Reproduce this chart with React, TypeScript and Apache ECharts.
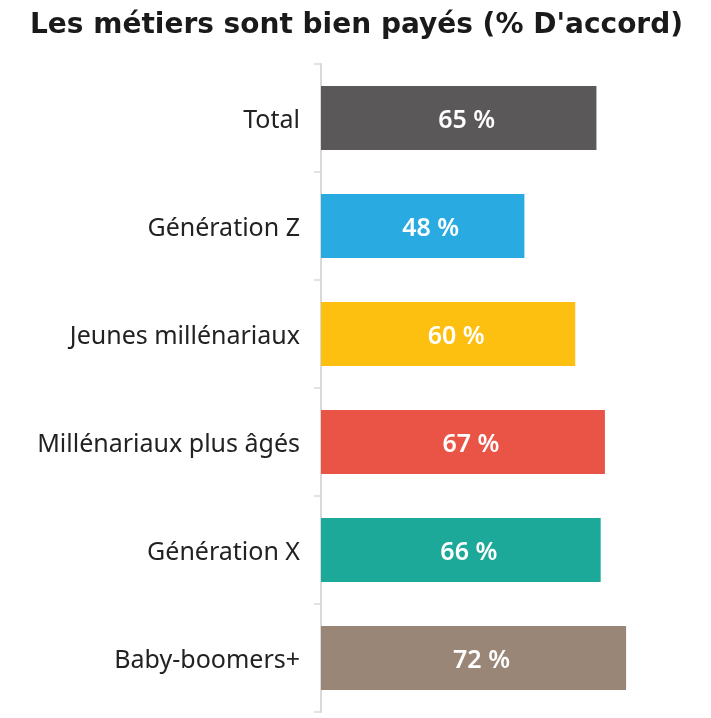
import React, { useEffect, useRef } from "react";
import * as echarts from "echarts";

const TITLE = "Les métiers sont bien payés (% D'accord)";
const categories = [
  "Total",
  "Génération Z",
  "Jeunes millénariaux",
  "Millénariaux plus âgés",
  "Génération X",
  "Baby-boomers+",
];
const values = [65, 48, 60, 67, 66, 72];
const colors = ["#5b5859", "#29abe2", "#fdc010", "#ea5446", "#1ca99a", "#9a8677"];

export default function App() {
  const ref = useRef<HTMLDivElement>(null);
  useEffect(() => {
    document.body.style.margin = "0";
    const chart = echarts.init(ref.current!, undefined, { renderer: "svg" });
    chart.setOption({
      animation: false,
      title: {
        text: TITLE,
        left: 25,
        top: 4,
        textStyle: {
          fontFamily: "DejaVu Sans",
          fontSize: 28,
          fontWeight: "bold",
          color: "#1a1a1a",
        },
      },
      grid: { left: 321, right: 51, top: 64, bottom: 6, containLabel: false },
      xAxis: {
        type: "value",
        min: 0,
        max: 80,
        show: false,
      },
      yAxis: {
        type: "category",
        data: categories,
        inverse: true,
        axisLine: { show: true, lineStyle: { color: "#d9d9d9", width: 2 } },
        axisTick: { show: true, length: 7, lineStyle: { color: "#d9d9d9", width: 1.5 } },
        axisLabel: {
          margin: 21,
          fontFamily: "Noto Sans",
          fontSize: 25,
          color: "#222222",
        },
      },
      series: [
        {
          type: "bar",
          barWidth: 64,
          data: values.map((v, i) => ({ value: v, itemStyle: { color: colors[i] } })),
          label: {
            show: true,
            position: "inside",
            offset: [8, 0],
            formatter: "{c} %",
            color: "#ffffff",
            fontFamily: "Noto Sans",
            fontWeight: 600,
            fontSize: 25,
          },
        },
      ],
    });
    return () => chart.dispose();
  }, []);
  return (
    <div
      ref={ref}
      style={{ position: "fixed", left: 0, top: 0, width: 711, height: 718 }}
    />
  );
}
